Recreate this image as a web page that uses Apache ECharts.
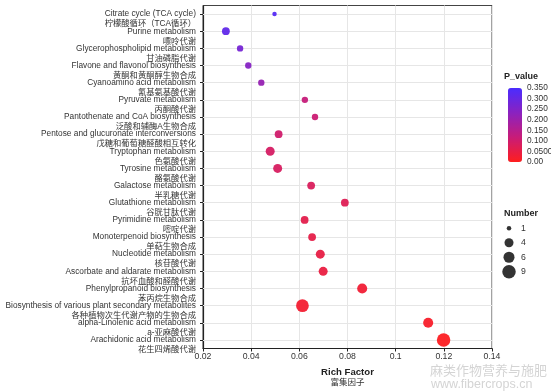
<!DOCTYPE html>
<html>
<head>
<meta charset="utf-8">
<script src="https://cdn.jsdelivr.net/npm/echarts@6/dist/echarts.min.js"></script>
<style>html,body{margin:0;padding:0;background:#fff}#c{width:551px;height:392px}</style>
</head>
<body>
<div id="c"></div>
<script>
// ---- data ----
const pathwaysEn = [
  'Citrate cycle (TCA cycle)',
  'Purine metabolism',
  'Glycerophospholipid metabolism',
  'Flavone and flavonol biosynthesis',
  'Cyanoamino acid metabolism',
  'Pyruvate metabolism',
  'Pantothenate and CoA biosynthesis',
  'Pentose and glucuronate interconversions',
  'Tryptophan metabolism',
  'Tyrosine metabolism',
  'Galactose metabolism',
  'Glutathione metabolism',
  'Pyrimidine metabolism',
  'Monoterpenoid biosynthesis',
  'Nucleotide metabolism',
  'Ascorbate and aldarate metabolism',
  'Phenylpropanoid biosynthesis',
  'Biosynthesis of various plant secondary metabolites',
  'alpha-Linolenic acid metabolism',
  'Arachidonic acid metabolism'
];
const pathwaysZh = [
  '柠檬酸循环（TCA循环）',
  '嘌呤代谢',
  '甘油磷脂代谢',
  '黄酮和黄酮醇生物合成',
  '氰基氨基酸代谢',
  '丙酮酸代谢',
  '泛酸和辅酶A生物合成',
  '戊糖和葡萄糖醛酸相互转化',
  '色氨酸代谢',
  '酪氨酸代谢',
  '半乳糖代谢',
  '谷胱甘肽代谢',
  '嘧啶代谢',
  '单萜生物合成',
  '核苷酸代谢',
  '抗坏血酸和醛酸代谢',
  '苯丙烷生物合成',
  '各种植物次生代谢产物的生物合成',
  'a-亚麻酸代谢',
  '花生四烯酸代谢'
];
const richFactor = [0.0497, 0.0295, 0.0354, 0.0388, 0.0442, 0.0623, 0.0665, 0.0514, 0.0479, 0.0510,
                    0.0649, 0.0789, 0.0622, 0.0653, 0.0687, 0.0699, 0.0861, 0.0613, 0.1135, 0.1199];
const geneNumber = [1, 3, 2, 2, 2, 2, 2, 3, 4, 4, 3, 3, 3, 3, 4, 4, 5, 8, 5, 9];
const pValue = [0.33, 0.31, 0.27, 0.24, 0.21, 0.12, 0.11, 0.10, 0.09, 0.085,
                0.08, 0.07, 0.06, 0.055, 0.05, 0.045, 0.03, 0.025, 0.015, 0.005];
const xTicks = { min: 0.02, max: 0.14, step: 0.02 };
const pvTickLabels = ['0.00', '0.0500', '0.100', '0.150', '0.200', '0.250', '0.300', '0.350'];
const pvRange = { min: 0, max: 0.35, step: 0.05 };
const numberLegend = [1, 4, 6, 9];

// ---- chart ----
const FONT = "'Liberation Sans', Arial, 'Noto Sans CJK SC', sans-serif";
const sizeFn = n => 4.5 * Math.sqrt(n);
const categories = pathwaysEn.map((e, i) => ' \n' + e + '\n' + pathwaysZh[i]);
const mainData = categories.map((c, i) => [richFactor[i], c, geneNumber[i], pValue[i]]);

const chart = echarts.init(document.getElementById('c'), null, { renderer: 'canvas' });
chart.setOption({
  animation: false,
  textStyle: { fontFamily: FONT },
  title: [
    { text: 'P_value', left: 504, top: 72, padding: 0, textStyle: { fontSize: 9, fontWeight: 'bold', color: '#222', fontFamily: FONT } },
    { text: 'Number', left: 504, top: 209, padding: 0, textStyle: { fontSize: 9, fontWeight: 'bold', color: '#222', fontFamily: FONT } }
  ],
  grid: [
    { left: 203, top: 5.5, width: 289, height: 343, show: true, borderColor: '#444', borderWidth: 1,
      backgroundColor: 'transparent', containLabel: false, outerBoundsMode: 'none' },
    { left: 508, top: 88, width: 14, height: 74, containLabel: false, outerBoundsMode: 'none' },
    { left: 502, top: 221, width: 14, height: 58, containLabel: false, outerBoundsMode: 'none' }
  ],
  xAxis: [
    {
      gridIndex: 0, type: 'value', min: xTicks.min, max: xTicks.max, interval: xTicks.step,
      axisLine: { show: true, lineStyle: { color: '#222', width: 1.2 } },
      axisTick: { show: true, length: 3, lineStyle: { color: '#222' } },
      axisLabel: { fontSize: 8.7, color: '#333', margin: 4, fontFamily: FONT },
      splitLine: { show: true, lineStyle: { color: '#e6e6e6', width: 1 } },
      name: '{a|Rich Factor}\n{b|富集因子}', nameLocation: 'middle', nameGap: 18,
      nameTextStyle: {
        rich: {
          a: { fontSize: 9.6, fontWeight: 'bold', color: '#222', lineHeight: 11, fontFamily: FONT },
          b: { fontSize: 8.5, color: '#333', lineHeight: 11, fontFamily: FONT }
        }
      }
    },
    { gridIndex: 1, type: 'value', show: false, min: 0, max: 1 },
    { gridIndex: 2, type: 'category', show: false, data: ['k'] }
  ],
  yAxis: [
    {
      gridIndex: 0, type: 'category', data: categories, inverse: true,
      axisLine: { show: true, lineStyle: { color: '#222', width: 1.2 } },
      axisTick: { show: true, length: 3, alignWithLabel: true, lineStyle: { color: '#222' } },
      axisLabel: { interval: 0, fontSize: 8.3, lineHeight: 10, color: '#333', margin: 7, fontFamily: FONT },
      splitLine: { show: false }
    },
    {
      gridIndex: 1, type: 'value', min: pvRange.min, max: pvRange.max, interval: pvRange.step, position: 'right',
      axisLine: { show: false },
      axisTick: { show: false },
      axisLabel: { fontSize: 8.3, color: '#333', margin: 5, fontFamily: FONT,
                   formatter: (v, i) => pvTickLabels[i] },
      splitLine: { show: false }
    },
    {
      gridIndex: 2, type: 'category', data: numberLegend.map(String), inverse: true, position: 'right',
      axisLine: { show: false }, axisTick: { show: false },
      axisLabel: { fontSize: 8.7, color: '#333', margin: 5, fontFamily: FONT },
      splitLine: { show: false }
    }
  ],
  visualMap: [{
    type: 'continuous', seriesIndex: 0, dimension: 3,
    min: pvRange.min, max: pvRange.max,
    left: 508, top: 88, itemWidth: 14, itemHeight: 74, padding: 0,
    calculable: false, text: ['', ''], showLabel: false, hoverLink: false,
    inRange: { color: ['#ff1e1e', '#c81c78', '#8a22c0', '#4a2cff'] }
  }],
  series: [
    {
      type: 'scatter', xAxisIndex: 0, yAxisIndex: 0, z: 5,
      data: mainData,
      symbolSize: v => sizeFn(v[2]),
      itemStyle: { opacity: 0.95 }
    },
    {
      type: 'scatter', xAxisIndex: 0, yAxisIndex: 0, z: 1, data: [], silent: true,
      markLine: {
        silent: true, symbol: 'none', label: { show: false },
        lineStyle: { color: '#e6e6e6', width: 1, type: 'solid' },
        data: categories.map(c => ({ yAxis: c }))
      }
    },
    { type: 'scatter', xAxisIndex: 1, yAxisIndex: 1, data: [] },
    {
      type: 'scatter', xAxisIndex: 2, yAxisIndex: 2,
      data: numberLegend.map(n => ['k', String(n)]),
      symbolSize: v => sizeFn(Number(v[1])),
      itemStyle: { color: '#000' }
    }
  ],
  graphic: [
    { type: 'text', left: 430, top: 365, style: { text: '麻类作物营养与施肥', font: '13px ' + FONT, fill: '#d4d4d4' } },
    { type: 'text', left: 431, top: 378, style: { text: 'www.fibercrops.cn', font: '12.5px ' + FONT, fill: '#d4d4d4' } }
  ]
});
</script>
</body>
</html>
